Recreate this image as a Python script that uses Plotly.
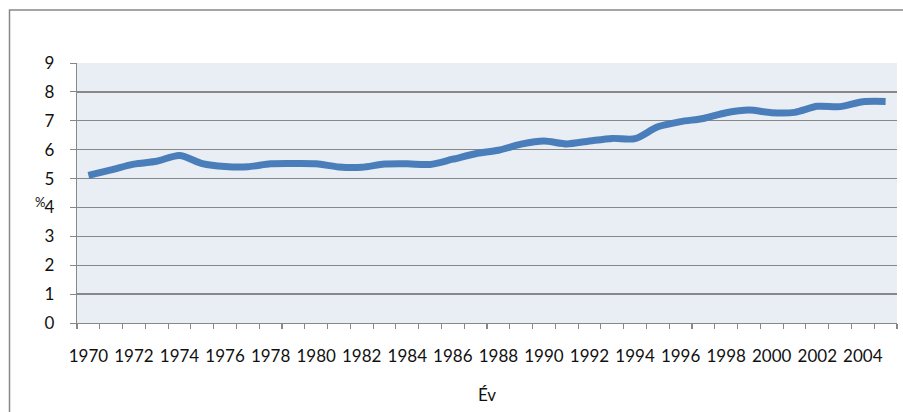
import plotly.graph_objects as go

years = list(range(1970, 2006))
values = [5.11, 5.30, 5.50, 5.60, 5.80, 5.52, 5.42, 5.41, 5.51, 5.52, 5.51, 5.40, 5.39,
          5.50, 5.51, 5.49, 5.67, 5.86, 5.98, 6.19, 6.30, 6.20, 6.30, 6.39, 6.38, 6.79,
          6.97, 7.08, 7.28, 7.37, 7.28, 7.29, 7.50, 7.49, 7.66, 7.67]
label_years = list(range(1970, 2005, 2))
y_ticks = list(range(0, 10))

GRAY = "#888888"
FONT = "Lato"

fig = go.Figure()
fig.add_trace(go.Scatter(
    x=years, y=values, mode="lines",
    line=dict(color="#4A7EBB", width=7, shape="spline", smoothing=0.8),
    hoverinfo="skip", showlegend=False,
))

boundaries = [years[0] - 0.5 + i for i in range(len(years) + 1)]
xr = [years[0] - 0.5, years[-1] + 0.5]

fig.update_layout(
    width=903, height=412,
    margin=dict(l=77, r=6, t=63, b=88.5),
    paper_bgcolor="white",
    plot_bgcolor="#E9EDF4",
    font=dict(family=FONT, size=17, color="#111111"),
    xaxis=dict(
        range=xr, tickvals=label_years, ticktext=[str(y) for y in label_years],
        ticks="", ticklabelstandoff=17,
        minor=dict(tickvals=boundaries, ticks="outside", ticklen=5,
                   tickcolor=GRAY, tickwidth=1.2, showgrid=False),
        showgrid=False, zeroline=False, showline=True, linecolor=GRAY, linewidth=1.3,
        title=dict(text="Év", font=dict(family=FONT, size=17), standoff=24),
    ),
    yaxis=dict(
        range=[0, 9], tickvals=y_ticks, ticks="outside", ticklen=6, tickcolor=GRAY,
        gridcolor=GRAY, gridwidth=1.3, showline=True, linecolor=GRAY, linewidth=1.3,
        zeroline=False, ticklabelstandoff=12,
    ),
    annotations=[dict(
        text="%", x=(40 - 77) / 820, y=4.2, xref="paper", yref="y", showarrow=False,
        font=dict(family=FONT, size=13), xanchor="center", yanchor="middle",
    )],
    shapes=[dict(
        type="rect", xref="paper", yref="paper",
        x0=(9.5 - 77) / 820, x1=1.2, y0=-0.6, y1=(323.5 - 10) / 260.5,
        line=dict(color=GRAY, width=1.5), layer="below",
    )],
)

fig.write_html(
    "out.html",
    config={"displayModeBar": False, "staticPlot": True},
    post_script="document.body.style.margin='0';document.body.style.overflow='hidden';",
)
